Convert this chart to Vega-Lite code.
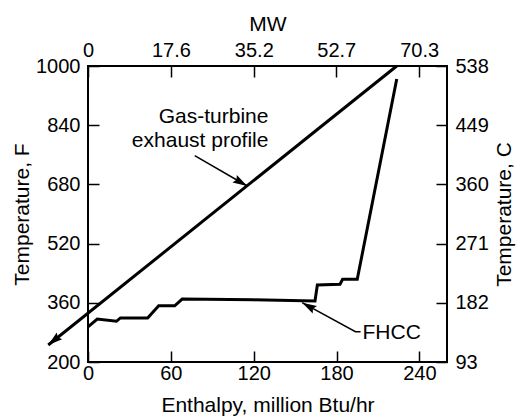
{
  "$schema": "https://vega.github.io/schema/vega-lite/v6.json",
  "width": 359,
  "height": 296,
  "autosize": {"type": "none"},
  "padding": {"left": 88, "top": 66, "right": 74, "bottom": 55},
  "background": "white",
  "config": {
    "font": "Liberation Sans",
    "view": {"stroke": "black", "strokeWidth": 2},
    "axis": {
      "domain": false,
      "grid": false,
      "ticks": true,
      "tickSize": -11,
      "tickWidth": 1.5,
      "tickColor": "black",
      "labelFontSize": 20,
      "labelColor": "black",
      "labelFlush": false,
      "labelOverlap": false,
      "labelPadding": 19,
      "titleFontSize": 21,
      "titleFontWeight": "normal",
      "titleColor": "black"
    }
  },
  "datasets": {
    "gt": [{"x": -28.8, "y": 246}, {"x": 223.6, "y": 1000}],
    "fhcc": [
      {"x": 0, "y": 295}, {"x": 6.7, "y": 316}, {"x": 20.6, "y": 310}, {"x": 23.5, "y": 319},
      {"x": 43.2, "y": 319}, {"x": 51.2, "y": 352}, {"x": 62.8, "y": 352}, {"x": 68.2, "y": 370},
      {"x": 120, "y": 368}, {"x": 164.4, "y": 365}, {"x": 166.1, "y": 408}, {"x": 182.5, "y": 410},
      {"x": 184.4, "y": 423.5}, {"x": 195, "y": 423.5}, {"x": 223.6, "y": 965}
    ],
    "pointers": [
      {"g": "gt", "o": 0, "x": 77.3, "y": 757.6}, {"g": "gt", "o": 1, "x": 115.3, "y": 675.7},
      {"g": "fh", "o": 0, "x": 197.4, "y": 281.9}, {"g": "fh", "o": 1, "x": 193.7, "y": 281.9}, {"g": "fh", "o": 2, "x": 155.1, "y": 360.3}
    ],
    "heads": [
      {"x": -28.8, "y": 246, "angle": 231},
      {"x": 115.3, "y": 675.7, "angle": 120},
      {"x": 155.1, "y": 360.3, "angle": 299}
    ],
    "labels": [
      {"x": 130.7, "y": 863, "text": "Gas-turbine"},
      {"x": 130.7, "y": 798, "text": "exhaust profile"}
    ],
    "labels2": [
      {"x": 198.8, "y": 278, "text": "FHCC"}
    ]
  },
  "layer": [
    {
      "layer": [
        {
          "data": {"name": "gt"},
          "mark": {"type": "line", "color": "black", "strokeWidth": 3, "clip": false},
          "encoding": {
            "x": {"field": "x", "type": "quantitative", "scale": {"domain": [0, 260], "nice": false, "zero": false},
                  "axis": {"orient": "bottom", "values": [0, 60, 120, 180, 240], "format": "d", "title": "Enthalpy, million Btu/hr", "labelPadding": 12, "titlePadding": 11}},
            "y": {"field": "y", "type": "quantitative", "scale": {"domain": [200, 1000], "nice": false, "zero": false},
                  "axis": {"orient": "left", "values": [200, 360, 520, 680, 840, 1000], "format": "d", "title": "Temperature, F", "titlePadding": 3}}
          }
        },
        {
          "data": {"name": "fhcc"},
          "mark": {"type": "line", "color": "black", "strokeWidth": 3, "clip": false},
          "encoding": {
            "x": {"field": "x", "type": "quantitative"},
            "y": {"field": "y", "type": "quantitative"}
          }
        },
        {
          "data": {"name": "pointers"},
          "mark": {"type": "line", "color": "black", "strokeWidth": 1.5, "clip": false},
          "encoding": {
            "x": {"field": "x", "type": "quantitative"},
            "y": {"field": "y", "type": "quantitative"},
            "detail": {"field": "g"},
            "order": {"field": "o"}
          }
        },
        {
          "data": {"name": "heads"},
          "mark": {"type": "point", "filled": true, "color": "black", "opacity": 1, "size": 210, "clip": false,
                   "shape": "M0,0L0.6,2L0,1.7L-0.6,2Z"},
          "encoding": {
            "x": {"field": "x", "type": "quantitative"},
            "y": {"field": "y", "type": "quantitative"},
            "angle": {"field": "angle", "type": "quantitative", "scale": null}
          }
        },
        {
          "data": {"name": "labels"},
          "mark": {"type": "text", "align": "right", "baseline": "middle", "fontSize": 21, "color": "black"},
          "encoding": {
            "x": {"field": "x", "type": "quantitative"},
            "y": {"field": "y", "type": "quantitative"},
            "text": {"field": "text"}
          }
        },
        {
          "data": {"name": "labels2"},
          "mark": {"type": "text", "align": "left", "baseline": "middle", "fontSize": 21, "color": "black"},
          "encoding": {
            "x": {"field": "x", "type": "quantitative"},
            "y": {"field": "y", "type": "quantitative"},
            "text": {"field": "text"}
          }
        }
      ]
    },
    {
      "data": {"values": [{"mw": 0, "c": 93}, {"mw": 76.2, "c": 538}]},
      "mark": {"type": "point", "opacity": 0},
      "encoding": {
        "x": {"field": "mw", "type": "quantitative", "scale": {"domain": [0, 76.2], "nice": false, "zero": false},
              "axis": {"orient": "top", "values": [0, 17.6, 35.2, 52.7, 70.3], "format": ".1~f", "title": "MW", "labelPadding": 17, "titlePadding": 6}},
        "y": {"field": "c", "type": "quantitative", "scale": {"domain": [93, 538], "nice": false, "zero": false},
              "axis": {"orient": "right", "values": [93, 182, 271, 360, 449, 538], "format": "d", "title": "Temperature, C", "titleAngle": -90, "titlePadding": 26}}
      }
    }
  ],
  "resolve": {"scale": {"x": "independent", "y": "independent"}}
}
